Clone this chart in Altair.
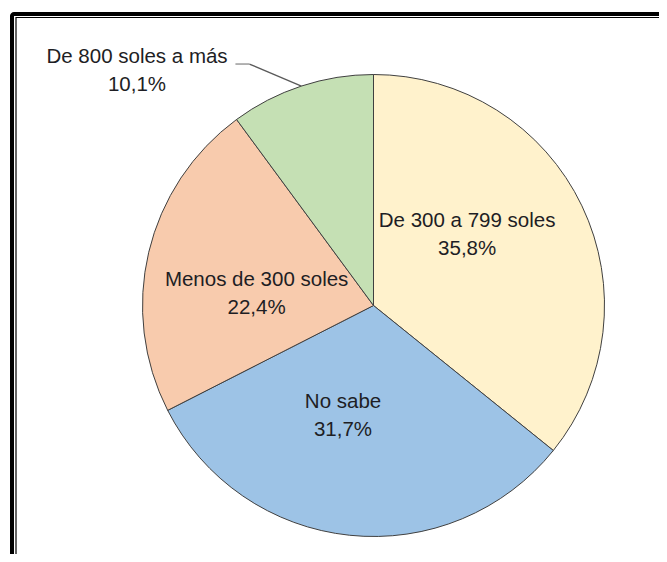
import math
import altair as alt
import pandas as pd

# ---- data ----
categories = ["De 300 a 799 soles", "No sabe", "Menos de 300 soles", "De 800 soles a más"]
values = [35.8, 31.7, 22.4, 10.1]
pct_labels = ["35,8%", "31,7%", "22,4%", "10,1%"]
colors = ["#FFF2CC", "#9DC3E6", "#F8CBAD", "#C5E0B4"]

df = pd.DataFrame({
    "cat": categories,
    "val": values,
    "pct": pct_labels,
    "order": list(range(len(categories))),
})
df["label"] = df["cat"] + "\n" + df["pct"]

W, H = 651, 546
CX, CY, R = 365.5, 297.5, 231
R_IN = 116

base = alt.Chart(df)

pie = base.mark_arc(outerRadius=R, stroke="#404040", strokeWidth=1).encode(
    theta=alt.Theta("val:Q", stack=True),
    color=alt.Color("cat:N", scale=alt.Scale(domain=categories, range=colors), legend=None),
    order=alt.Order("order:Q"),
    x=alt.value(CX),
    y=alt.value(CY),
)

# geometry derived from the data (slice mid-angles)
geo = base.transform_window(
    cum="sum(val)", sort=[alt.SortField("order")], frame=[None, 0]
).transform_joinaggregate(total="sum(val)").transform_calculate(
    mid="2*PI*(datum.cum - datum.val/2)/datum.total"
).transform_calculate(
    ix=f"{CX} + {R_IN}*sin(datum.mid)",
    iy=f"{CY} - {R_IN}*cos(datum.mid)",
    ox=f"{CX} + {R}*sin(datum.mid)",
    oy=f"{CY} - {R}*cos(datum.mid)",
)

FONT = "Liberation Sans"
text_style = dict(font=FONT, fontSize=20.5, lineBreak="\n", lineHeight=28,
                  align="center", baseline="middle", color="#1e1e24")

inner_offsets = {
    "De 300 a 799 soles": (-11, -34.5),
    "No sabe": (-18.5, -19),
    "Menos de 300 soles": (-4, 1),
}

layers = [pie]
for cat, (dx, dy) in inner_offsets.items():
    layers.append(
        geo.transform_filter(alt.datum.cat == cat).mark_text(dx=dx, dy=dy, **text_style).encode(
            x=alt.X("ix:Q", scale=None, axis=None),
            y=alt.Y("iy:Q", scale=None, axis=None),
            text="label:N",
        )
    )

outside = geo.transform_filter(alt.datum.cat == "De 800 soles a más")
layers.append(
    outside.mark_text(dx=-164.4, dy=-29.5, **text_style).encode(
        x=alt.X("ox:Q", scale=None, axis=None),
        y=alt.Y("oy:Q", scale=None, axis=None),
        text="label:N",
    )
)
leader = outside.transform_calculate(
    ex="datum.ox - 52", ey="datum.oy - 22", hx="datum.ox - 66"
)
layers.append(
    leader.mark_rule(color="#5a5a5a", strokeWidth=1.3).encode(
        x=alt.X("ox:Q", scale=None, axis=None),
        y=alt.Y("oy:Q", scale=None, axis=None),
        x2="ex:Q",
        y2="ey:Q",
    )
)
layers.append(
    leader.mark_rule(color="#8a8a8a", strokeWidth=1.3).encode(
        x=alt.X("ex:Q", scale=None, axis=None),
        y=alt.Y("ey:Q", scale=None, axis=None),
        x2="hx:Q",
        y2="ey:Q",
    )
)

# double frame around the figure (extends beyond the visible area)
frame_df = pd.DataFrame({"k": [0]})
outer = alt.Chart(frame_df).mark_rect(
    fill=None, stroke="black", strokeWidth=4, cornerRadius=2
).encode(x=alt.value(4), x2=alt.value(W + 40), y=alt.value(6), y2=alt.value(H + 40))
inner = alt.Chart(frame_df).mark_rect(
    fill=None, stroke="black", strokeWidth=1.2
).encode(x=alt.value(8), x2=alt.value(W + 40), y=alt.value(9.5), y2=alt.value(H + 40))
layers += [outer, inner]

chart = alt.layer(*layers).properties(
    width=W, height=H, padding=0, autosize="none", background="white"
).configure_view(stroke=None)

chart.save("out.html", embed_options={"renderer": "svg", "actions": False})
